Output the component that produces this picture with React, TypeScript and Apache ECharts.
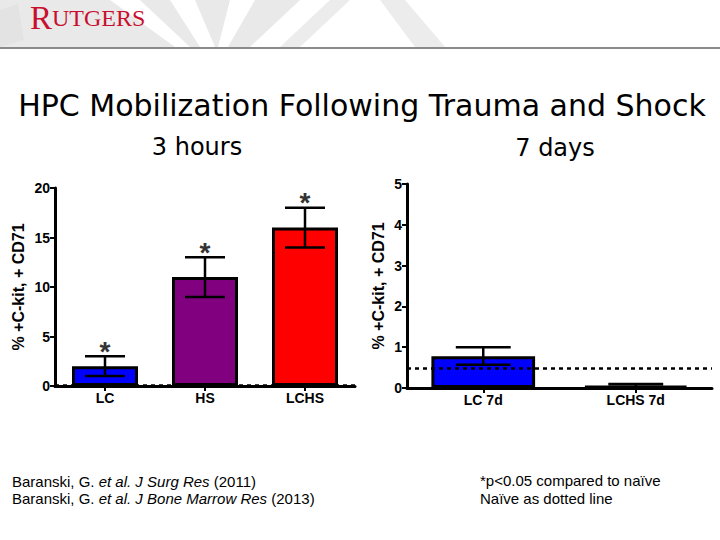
import React, { useEffect, useRef } from "react";
import * as echarts from "echarts";

const categories3h = ["LC", "HS", "LCHS"];
const values3h = [2, 11, 16];
const errLow3h = [1, 9, 14];
const errHigh3h = [3, 13, 18];
const colors3h = ["#0000ff", "#800080", "#ff0000"];
const sig3h = [1, 1, 1];
const naive3h = 0.05;

const categories7d = ["LC 7d", "LCHS 7d"];
const values7d = [0.78, 0.05];
const errLow7d = [0.57, 0.03];
const errHigh7d = [1.0, 0.1];
const colors7d = ["#0000ff", "#0000ff"];
const sig7d = [0, 0];
const naive7d = 0.48;

const yTicks3h = { min: 0, max: 20, interval: 5 };
const yTicks7d = { min: 0, max: 5, interval: 1 };

const FONT = "Liberation Sans, Arial, sans-serif";

function errRender(capFrac: number) {
  return (params: any, api: any) => {
    const x = api.value(0);
    const lo = api.coord([x, api.value(2)]);
    const hi = api.coord([x, api.value(3)]);
    const half = (api.size([1, 0])[0] * capFrac) / 2;
    const style = { stroke: "#000", lineWidth: 2.5 };
    const children: any[] = [
      { type: "line", shape: { x1: lo[0], y1: lo[1], x2: hi[0], y2: hi[1] }, style },
      { type: "line", shape: { x1: hi[0] - half, y1: hi[1], x2: hi[0] + half, y2: hi[1] }, style },
      { type: "line", shape: { x1: lo[0] - half, y1: lo[1], x2: lo[0] + half, y2: lo[1] }, style },
    ];
    if (api.value(4)) {
      children.push({
        type: "text",
        x: hi[0],
        y: hi[1] - 5,
        style: {
          text: "*",
          fill: "#333",
          font: "bold 28px " + FONT,
          textAlign: "center",
          textVerticalAlign: "middle",
        },
      });
    }
    return { type: "group", children };
  };
}

export default function App() {
  const ref = useRef<HTMLDivElement>(null);
  useEffect(() => {
    document.body.style.margin = "0";
    const chart = echarts.init(ref.current!, null, { renderer: "svg" });
    const axisLine = { show: true, lineStyle: { color: "#000", width: 3 } };
    const yLabel = { color: "#000", fontWeight: "bold", fontSize: 14, fontFamily: FONT, margin: 5 };
    const xLabel = { color: "#000", fontWeight: "bold", fontSize: 14, fontFamily: FONT, margin: 5 };
    const nameStyle = { color: "#000", fontWeight: "bold", fontSize: 16, fontFamily: FONT };
    const markLine = (v: number) => ({
      silent: true,
      symbol: "none",
      label: { show: false },
      lineStyle: { color: "#000", type: [4, 4], width: 2.5 },
      data: [{ yAxis: v }],
    });

    const option: any = {
      animation: false,
      backgroundColor: "#fff",
      grid: [
        { left: 55, top: 188, width: 300, height: 198 },
        { left: 407, top: 184, width: 305, height: 204 },
      ],
      xAxis: [
        {
          type: "category",
          gridIndex: 0,
          data: categories3h,
          axisLine,
          axisTick: { show: true, alignWithLabel: true, length: 5, lineStyle: { color: "#000", width: 2 } },
          axisLabel: xLabel,
        },
        {
          type: "category",
          gridIndex: 1,
          data: categories7d,
          axisLine,
          axisTick: { show: true, alignWithLabel: true, length: 5, lineStyle: { color: "#000", width: 2 } },
          axisLabel: xLabel,
        },
      ],
      yAxis: [
        {
          type: "value",
          gridIndex: 0,
          ...yTicks3h,
          axisLine,
          axisTick: { show: true, length: 5, lineStyle: { color: "#000", width: 2 } },
          axisLabel: yLabel,
          splitLine: { show: false },
          name: "% +C-kit, + CD71",
          nameLocation: "middle",
          nameRotate: 90,
          nameGap: 29,
          nameTextStyle: nameStyle,
        },
        {
          type: "value",
          gridIndex: 1,
          ...yTicks7d,
          axisLine,
          axisTick: { show: true, length: 5, lineStyle: { color: "#000", width: 2 } },
          axisLabel: yLabel,
          splitLine: { show: false },
          name: "% +C-kit, + CD71",
          nameLocation: "middle",
          nameRotate: 90,
          nameGap: 21,
          nameTextStyle: nameStyle,
        },
      ],
      series: [
        {
          type: "bar",
          xAxisIndex: 0,
          yAxisIndex: 0,
          barWidth: "66%",
          data: values3h.map((v, i) => ({
            value: v,
            itemStyle: { color: colors3h[i], borderColor: "#000", borderWidth: 3 },
          })),
          markLine: markLine(naive3h),
        },
        {
          type: "custom",
          xAxisIndex: 0,
          yAxisIndex: 0,
          z: 10,
          renderItem: errRender(0.4),
          data: values3h.map((v, i) => [i, v, errLow3h[i], errHigh3h[i], sig3h[i]]),
        },
        {
          type: "bar",
          xAxisIndex: 1,
          yAxisIndex: 1,
          barWidth: "68%",
          data: values7d.map((v, i) => ({
            value: v,
            itemStyle: { color: colors7d[i], borderColor: "#000", borderWidth: 3 },
          })),
          markLine: markLine(naive7d),
        },
        {
          type: "custom",
          xAxisIndex: 1,
          yAxisIndex: 1,
          z: 10,
          renderItem: errRender(0.36),
          data: values7d.map((v, i) => [i, v, errLow7d[i], errHigh7d[i], sig7d[i]]),
        },
      ],
      graphic: [
        { type: "rect", z: -10, shape: { x: 0, y: 0, width: 720, height: 47 }, style: { fill: "#fff" } },
        { type: "polygon", z: -9, shape: { points: [[0, 0], [300, 0], [250, 47], [0, 47]] }, style: { fill: "#e9e9e9" } },
        { type: "polygon", z: -8, shape: { points: [[170, 0], [195, 0], [215, 47], [200, 47]] }, style: { fill: "#fff" } },
        { type: "polygon", z: -8, shape: { points: [[230, 0], [255, 0], [228, 47], [218, 47]] }, style: { fill: "#fff" } },
        { type: "polygon", z: -8, shape: { points: [[110, 0], [140, 0], [190, 47], [175, 47]] }, style: { fill: "#fff" } },
        { type: "polygon", z: -9, shape: { points: [[330, 0], [350, 0], [300, 47], [280, 47]] }, style: { fill: "#ececec" } },
        { type: "polygon", z: -9, shape: { points: [[380, 0], [405, 0], [445, 47], [415, 47]] }, style: { fill: "#ececec" } },
        { type: "polygon", z: -9, shape: { points: [[0, 10], [18, 4], [24, 40], [0, 47]] }, style: { fill: "#e3e3e3" } },
        { type: "line", shape: { x1: 0, y1: 48, x2: 720, y2: 48 }, style: { stroke: "#8a8a8a", lineWidth: 2 } },
        {
          type: "text",
          x: 30,
          y: 34,
          style: {
            rich: {
              a: { fontFamily: "Liberation Serif, serif", fontSize: 33, fill: "#c8102e" },
              b: { fontFamily: "Liberation Serif, serif", fontSize: 24, fill: "#c8102e" },
            },
            text: "{a|R}{b|UTGERS}",
            textVerticalAlign: "bottom",
          },
        },
        {
          type: "text",
          x: 362,
          y: 105,
          style: {
            text: "HPC Mobilization Following Trauma and Shock",
            font: "30px DejaVu Sans, sans-serif",
            fill: "#000",
            textAlign: "center",
            textVerticalAlign: "middle",
          },
        },
        {
          type: "text",
          x: 197,
          y: 147,
          style: { text: "3 hours", font: "24px DejaVu Sans, sans-serif", fill: "#000", textAlign: "center", textVerticalAlign: "middle" },
        },
        {
          type: "text",
          x: 555,
          y: 148,
          style: { text: "7 days", font: "24px DejaVu Sans, sans-serif", fill: "#000", textAlign: "center", textVerticalAlign: "middle" },
        },
        {
          type: "text",
          x: 12,
          y: 474,
          style: {
            rich: {
              n: { fontFamily: FONT, fontSize: 15, fill: "#000" },
              i: { fontFamily: FONT, fontSize: 15, fontStyle: "italic", fill: "#000" },
            },
            text: "{n|Baranski, G. }{i|et al. J Surg Res}{n| (2011)}",
          },
        },
        {
          type: "text",
          x: 12,
          y: 491,
          style: {
            rich: {
              n: { fontFamily: FONT, fontSize: 15, fill: "#000" },
              i: { fontFamily: FONT, fontSize: 15, fontStyle: "italic", fill: "#000" },
            },
            text: "{n|Baranski, G. }{i|et al. J Bone Marrow Res}{n| (2013)}",
          },
        },
        {
          type: "text",
          x: 480,
          y: 473,
          style: { text: "*p<0.05 compared to naïve", font: "15px " + FONT, fill: "#000" },
        },
        {
          type: "text",
          x: 480,
          y: 491,
          style: { text: "Naïve as dotted line", font: "15px " + FONT, fill: "#000" },
        },
      ],
    };
    chart.setOption(option);
    return () => chart.dispose();
  }, []);
  return <div ref={ref} style={{ width: 720, height: 540, position: "absolute", left: 0, top: 0 }} />;
}
